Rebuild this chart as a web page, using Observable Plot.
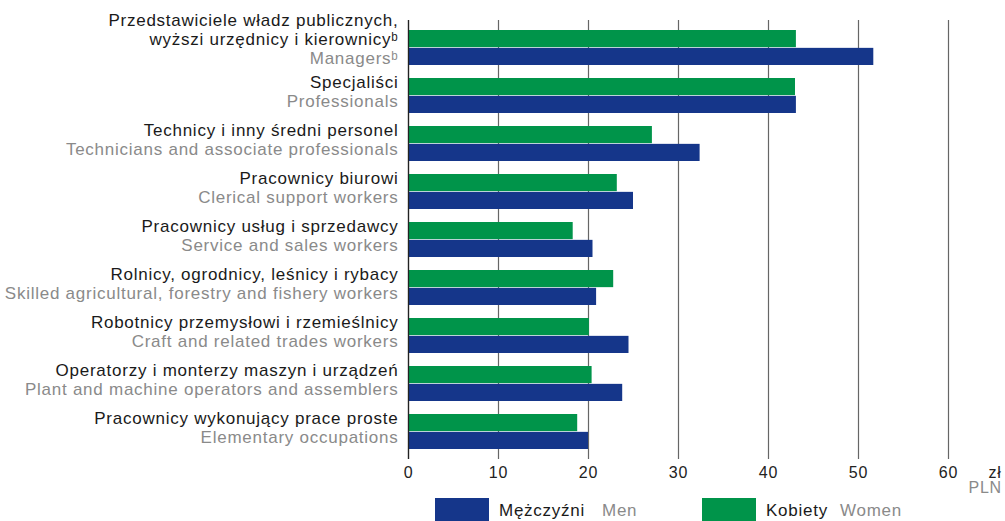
<!DOCTYPE html>
<html>
<head>
<meta charset="utf-8">
<script src="https://cdn.jsdelivr.net/npm/d3@7"></script>
<script src="https://cdn.jsdelivr.net/npm/@observablehq/plot@0.6"></script>
<style>
  html, body { margin: 0; padding: 0; background: #fff; }
  #wrap { position: relative; width: 1005px; height: 521px; overflow: hidden; font-family: "Liberation Sans", Arial, sans-serif; }
  #wrap svg text.lab { letter-spacing: 0.75px; }
  #wrap svg g[aria-label="text"] text { letter-spacing: 0.75px; }
  #legend { position: absolute; left: 0; top: 497px; width: 1005px; height: 24px; font-size: 17px; letter-spacing: 0.75px; }
  #legend .sw { position: absolute; top: 1px; width: 54px; height: 24px; }
  #legend .t { position: absolute; top: 4px; line-height: 20px; white-space: nowrap; }
  .pl { color: #1a1a1a; }
  .en { color: #8a8a8a; }
</style>
</head>
<body>
<div id="wrap"></div>
<script>
const categories = [
  "Managers", "Professionals", "Technicians", "Clerical", "Service",
  "Agricultural", "Craft", "Plant", "Elementary"
];
const labelsPL = [
  "Przedstawiciele władz publicznych,\nwyższi urzędnicy i kierownicyᵇ",
  "Specjaliści",
  "Technicy i inny średni personel",
  "Pracownicy biurowi",
  "Pracownicy usług i sprzedawcy",
  "Rolnicy, ogrodnicy, leśnicy i rybacy",
  "Robotnicy przemysłowi i rzemieślnicy",
  "Operatorzy i monterzy maszyn i urządzeń",
  "Pracownicy wykonujący prace proste"
];
const labelsEN = [
  "Managersᵇ",
  "Professionals",
  "Technicians and associate professionals",
  "Clerical support workers",
  "Service and sales workers",
  "Skilled agricultural, forestry and fishery workers",
  "Craft and related trades workers",
  "Plant and machine operators and assemblers",
  "Elementary occupations"
];
const men   = [51.7, 43.1, 32.4, 25.0, 20.5, 20.9, 24.5, 23.8, 20.0];
const women = [43.1, 43.0, 27.1, 23.2, 18.3, 22.8, 20.1, 20.4, 18.8];
const xTicks = [0, 10, 20, 30, 40, 50, 60];

const colorMen = "#15368a";
const colorWomen = "#00944a";

const W = 1005, H = 521, mTop = 26, mBottom = 68, mLeft = 408, mRight = 57;
const padInner = 0.27;
const step = (H - mTop - mBottom) / (categories.length - padInner);
const half = step * (1 - padInner) / 2;
const FS = 17;

const rows = categories.map((c, i) => ({cat: c, pl: labelsPL[i], en: labelsEN[i], men: men[i], women: women[i]}));

const chart = Plot.plot({
  width: W, height: H,
  marginTop: mTop, marginBottom: mBottom, marginLeft: mLeft, marginRight: mRight,
  style: {fontFamily: "'Liberation Sans', Arial, sans-serif", background: "#fff", overflow: "visible"},
  x: {domain: [0, 60], axis: null},
  y: {domain: categories, type: "band", paddingInner: padInner, paddingOuter: 0, axis: null},
  marks: [
    Plot.ruleX(xTicks, {x: d => d, stroke: d => d === 0 ? "#222" : "#666", strokeWidth: 1.2, insetTop: -6, insetBottom: -6}),
    Plot.barX(rows, {x: "women", y: "cat", fill: colorWomen, insetBottom: half}),
    Plot.barX(rows, {x: "men", y: "cat", fill: colorMen, insetTop: half}),
    Plot.ruleX([0], {stroke: "#222", strokeWidth: 1.2, insetTop: -6, insetBottom: -6}),
    // category labels
    Plot.text(rows.slice(1), {y: "cat", text: "pl", frameAnchor: "left", textAnchor: "end", dx: -10, dy: -13.74, fontSize: FS, fill: "#1a1a1a"}),
    Plot.text(rows.slice(1), {y: "cat", text: "en", frameAnchor: "left", textAnchor: "end", dx: -10, dy: 5.26, fontSize: FS, fill: "#8a8a8a"}),
    Plot.text(rows.slice(0, 1), {y: "cat", text: "pl", frameAnchor: "left", textAnchor: "end", dx: -10, dy: -18.88, lineHeight: 1.118, fontSize: FS, fill: "#1a1a1a"}),
    Plot.text(rows.slice(0, 1), {y: "cat", text: "en", frameAnchor: "left", textAnchor: "end", dx: -10, dy: 10.26, fontSize: FS, fill: "#8a8a8a"}),
    // tick labels
    Plot.text(xTicks, {x: d => d, frameAnchor: "bottom", dy: 24.6, fontSize: 16, fill: "#222"}),
    Plot.text(["zł"], {frameAnchor: "bottom-right", textAnchor: "start", dx: 40, dy: 24.6, fontSize: 16, fill: "#222"}),
    Plot.text(["PLN"], {frameAnchor: "bottom-right", textAnchor: "start", dx: 20, dy: 39.9, fontSize: 16, fill: "#8a8a8a"})
  ]
});

const wrap = document.getElementById("wrap");
wrap.appendChild(chart);

const legend = document.createElement("div");
legend.id = "legend";
legend.innerHTML = `
  <div class="sw" style="left:435px;background:${colorMen}"></div>
  <span class="t pl" style="left:499px">Mężczyźni</span>
  <span class="t en" style="left:602px">Men</span>
  <div class="sw" style="left:702px;background:${colorWomen}"></div>
  <span class="t pl" style="left:766px">Kobiety</span>
  <span class="t en" style="left:840px">Women</span>
`;
wrap.appendChild(legend);
</script>
</body>
</html>
